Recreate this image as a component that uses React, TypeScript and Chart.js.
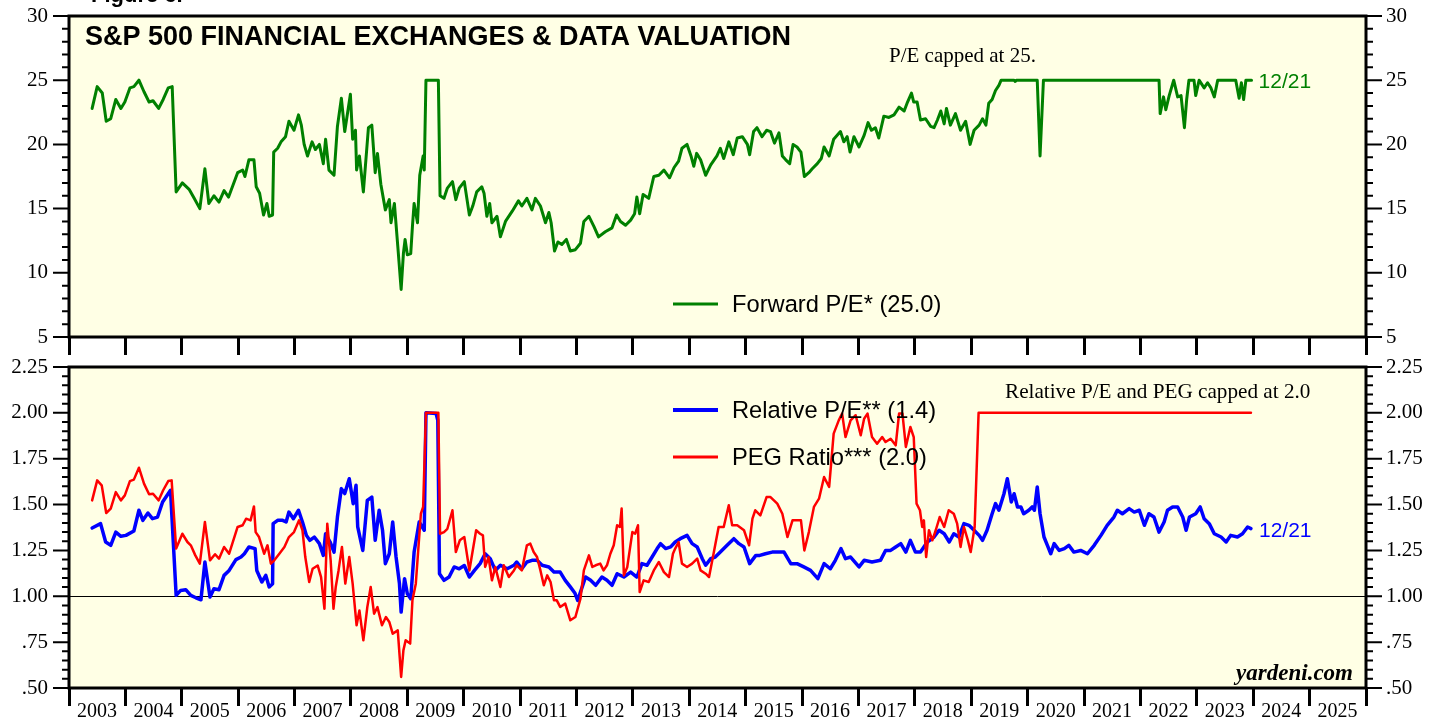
import React, { useEffect, useRef } from "react";
import { Chart, registerables } from "chart.js";

Chart.register(...registerables);

// ---------------- DATA ----------------
const yearLabels = [
  "2003", "2004", "2005", "2006", "2007", "2008", "2009", "2010", "2011", "2012", "2013", "2014",
  "2015", "2016", "2017", "2018", "2019", "2020", "2021", "2022", "2023", "2024", "2025",
];
const FIRST_YEAR = 2003;
const LAST_YEAR = 2026;

// [date (fractional year), value]
const forwardPE: [number, number][] = [
  [2003.41, 22.8], [2003.5, 24.5], [2003.59, 24.0], [2003.66, 21.8], [2003.74, 22.0], [2003.83, 23.5],
  [2003.92, 22.8], [2003.99, 23.3], [2004.08, 24.4], [2004.15, 24.5], [2004.24, 25.0], [2004.33, 24.1],
  [2004.42, 23.3], [2004.49, 23.4], [2004.59, 22.8], [2004.67, 23.5], [2004.76, 24.4], [2004.83, 24.5],
  [2004.9, 16.3], [2005.01, 17.0], [2005.13, 16.5], [2005.22, 15.8], [2005.32, 15.0], [2005.41, 18.1],
  [2005.48, 15.4], [2005.57, 16.0], [2005.66, 15.5], [2005.75, 16.4], [2005.83, 15.9], [2005.99, 17.8],
  [2006.08, 18.0], [2006.12, 17.5], [2006.19, 18.8], [2006.28, 18.8], [2006.32, 16.7], [2006.38, 16.2],
  [2006.45, 14.5], [2006.51, 15.4], [2006.55, 14.4], [2006.61, 14.5], [2006.63, 19.4], [2006.7, 19.7],
  [2006.76, 20.2], [2006.84, 20.6], [2006.9, 21.8], [2006.99, 21.1], [2007.07, 22.3], [2007.12, 21.5],
  [2007.17, 20.0], [2007.23, 19.1], [2007.31, 20.2], [2007.37, 19.6], [2007.44, 20.0], [2007.51, 18.5],
  [2007.55, 20.4], [2007.61, 18.0], [2007.7, 17.6], [2007.76, 21.4], [2007.83, 23.6], [2007.89, 21.0],
  [2007.99, 23.9], [2008.03, 20.4], [2008.08, 21.1], [2008.1, 18.0], [2008.15, 19.1], [2008.22, 16.3],
  [2008.31, 21.3], [2008.37, 21.5], [2008.43, 17.8], [2008.47, 19.3], [2008.53, 16.9], [2008.61, 14.9],
  [2008.68, 15.7], [2008.71, 13.9], [2008.77, 15.4], [2008.83, 12.1], [2008.89, 8.7], [2008.93, 11.5],
  [2008.96, 12.6], [2009.0, 11.4], [2009.06, 11.5], [2009.09, 13.6], [2009.12, 15.4], [2009.18, 13.9],
  [2009.22, 17.6], [2009.28, 19.1], [2009.3, 18.0], [2009.33, 25.0], [2009.55, 25.0], [2009.58, 16.0],
  [2009.65, 15.8], [2009.71, 16.6], [2009.8, 17.1], [2009.86, 15.7], [2009.92, 16.6], [2010.01, 17.1],
  [2010.1, 14.5], [2010.16, 15.2], [2010.23, 16.3], [2010.32, 16.7], [2010.36, 16.2], [2010.41, 14.4],
  [2010.46, 15.4], [2010.5, 13.9], [2010.59, 14.4], [2010.65, 12.8], [2010.74, 14.0], [2010.86, 14.8],
  [2010.97, 15.6], [2011.03, 15.2], [2011.12, 15.8], [2011.21, 14.9], [2011.27, 15.8], [2011.36, 15.2],
  [2011.45, 13.9], [2011.51, 14.7], [2011.55, 13.9], [2011.61, 11.7], [2011.67, 12.4], [2011.74, 12.2],
  [2011.82, 12.6], [2011.89, 11.7], [2011.98, 11.8], [2012.07, 12.3], [2012.13, 14.0], [2012.22, 14.4],
  [2012.31, 13.6], [2012.39, 12.8], [2012.51, 13.2], [2012.63, 13.5], [2012.71, 14.5], [2012.78, 14.0],
  [2012.87, 13.7], [2012.96, 14.1], [2013.03, 14.6], [2013.07, 15.9], [2013.12, 14.6], [2013.18, 16.1],
  [2013.28, 15.8], [2013.37, 17.5], [2013.46, 17.6], [2013.55, 18.0], [2013.65, 17.4], [2013.73, 18.2],
  [2013.81, 18.7], [2013.87, 19.7], [2013.96, 20.0], [2014.03, 19.1], [2014.08, 18.3], [2014.13, 19.3],
  [2014.2, 18.8], [2014.29, 17.6], [2014.38, 18.4], [2014.49, 19.1], [2014.55, 19.7], [2014.61, 18.9],
  [2014.7, 20.2], [2014.78, 19.2], [2014.85, 20.5], [2014.94, 20.6], [2015.03, 20.0], [2015.07, 19.2],
  [2015.14, 21.0], [2015.2, 21.3], [2015.29, 20.6], [2015.37, 21.1], [2015.44, 21.0], [2015.51, 20.1],
  [2015.59, 20.9], [2015.65, 19.1], [2015.71, 18.8], [2015.78, 18.5], [2015.84, 20.0], [2015.91, 19.8],
  [2015.98, 19.4], [2016.04, 17.5], [2016.12, 17.8], [2016.18, 18.1], [2016.27, 18.5], [2016.34, 18.9],
  [2016.39, 19.8], [2016.48, 19.1], [2016.56, 20.4], [2016.68, 21.0], [2016.74, 20.2], [2016.8, 20.6],
  [2016.85, 19.4], [2016.92, 20.6], [2017.01, 19.8], [2017.1, 20.7], [2017.17, 21.7], [2017.23, 21.1],
  [2017.3, 21.3], [2017.36, 20.5], [2017.45, 22.2], [2017.54, 22.1], [2017.63, 22.3], [2017.72, 22.9],
  [2017.81, 22.6], [2017.87, 23.3], [2017.94, 24.0], [2017.98, 23.3], [2018.04, 23.3], [2018.1, 21.9],
  [2018.19, 22.0], [2018.28, 21.4], [2018.34, 21.3], [2018.4, 21.9], [2018.46, 22.6], [2018.52, 21.6],
  [2018.56, 22.8], [2018.63, 21.5], [2018.72, 22.4], [2018.81, 21.1], [2018.9, 21.8], [2018.98, 20.0],
  [2019.05, 21.1], [2019.14, 21.5], [2019.2, 22.0], [2019.26, 21.5], [2019.31, 23.2], [2019.37, 23.5],
  [2019.43, 24.2], [2019.49, 24.6], [2019.53, 25.0], [2019.76, 25.0], [2019.78, 24.9], [2019.8, 25.0],
  [2020.17, 25.0], [2020.22, 19.1], [2020.28, 25.0], [2022.33, 25.0], [2022.35, 22.4], [2022.41, 23.7],
  [2022.45, 22.7], [2022.51, 23.8], [2022.59, 25.0], [2022.66, 23.7], [2022.72, 23.8], [2022.78, 21.3],
  [2022.82, 23.5], [2022.86, 25.0], [2022.95, 25.0], [2022.98, 23.8], [2023.04, 25.0], [2023.13, 24.4],
  [2023.19, 24.8], [2023.25, 24.4], [2023.31, 23.7], [2023.37, 25.0], [2023.69, 25.0], [2023.75, 23.6],
  [2023.79, 24.8], [2023.83, 23.5], [2023.87, 25.0], [2023.97, 25.0],
];

const relativePE: [number, number][] = [
  [2003.41, 1.372], [2003.56, 1.396], [2003.65, 1.296], [2003.74, 1.278], [2003.83, 1.35], [2003.92, 1.327],
  [2004.01, 1.332], [2004.15, 1.356], [2004.24, 1.469], [2004.31, 1.414], [2004.4, 1.454], [2004.48, 1.423],
  [2004.57, 1.432], [2004.66, 1.514], [2004.8, 1.578], [2004.9, 1.005], [2004.98, 1.032], [2005.07, 1.036],
  [2005.16, 1.005], [2005.25, 0.992], [2005.34, 0.981], [2005.41, 1.187], [2005.5, 0.996], [2005.57, 1.041],
  [2005.66, 1.036], [2005.75, 1.114], [2005.84, 1.141], [2005.96, 1.2], [2006.05, 1.214], [2006.11, 1.232],
  [2006.19, 1.269], [2006.3, 1.26], [2006.33, 1.141], [2006.42, 1.078], [2006.49, 1.114], [2006.55, 1.051],
  [2006.61, 1.069], [2006.62, 1.396], [2006.7, 1.414], [2006.79, 1.414], [2006.85, 1.405], [2006.9, 1.459],
  [2006.98, 1.423], [2007.07, 1.469], [2007.14, 1.405], [2007.21, 1.332], [2007.27, 1.305], [2007.35, 1.323],
  [2007.44, 1.287], [2007.51, 1.223], [2007.55, 1.341], [2007.63, 1.296], [2007.7, 1.241], [2007.76, 1.432],
  [2007.83, 1.587], [2007.89, 1.56], [2007.97, 1.641], [2008.04, 1.505], [2008.09, 1.605], [2008.12, 1.378],
  [2008.21, 1.25], [2008.29, 1.523], [2008.37, 1.541], [2008.43, 1.305], [2008.5, 1.469], [2008.56, 1.36],
  [2008.61, 1.178], [2008.68, 1.232], [2008.74, 1.405], [2008.8, 1.214], [2008.86, 1.069], [2008.89, 0.914],
  [2008.95, 1.096], [2009.0, 1.014], [2009.06, 0.987], [2009.12, 1.241], [2009.21, 1.405], [2009.3, 1.36],
  [2009.33, 2.0], [2009.51, 1.996], [2009.54, 1.96], [2009.57, 1.123], [2009.65, 1.087], [2009.74, 1.105],
  [2009.83, 1.16], [2009.92, 1.15], [2010.01, 1.168], [2010.1, 1.105], [2010.19, 1.141], [2010.29, 1.178],
  [2010.38, 1.232], [2010.47, 1.205], [2010.56, 1.141], [2010.65, 1.169], [2010.77, 1.15], [2010.89, 1.169],
  [2010.94, 1.187], [2011.03, 1.15], [2011.12, 1.187], [2011.21, 1.196], [2011.3, 1.196], [2011.39, 1.169],
  [2011.51, 1.16], [2011.6, 1.132], [2011.71, 1.132], [2011.8, 1.087], [2011.89, 1.051], [2011.97, 1.018],
  [2012.02, 0.978], [2012.07, 1.023], [2012.16, 1.105], [2012.25, 1.087], [2012.34, 1.06], [2012.45, 1.105],
  [2012.54, 1.087], [2012.63, 1.06], [2012.72, 1.123], [2012.84, 1.105], [2012.96, 1.132], [2013.07, 1.105],
  [2013.16, 1.178], [2013.25, 1.169], [2013.34, 1.214], [2013.43, 1.26], [2013.49, 1.287], [2013.58, 1.26],
  [2013.67, 1.269], [2013.75, 1.296], [2013.84, 1.314], [2013.96, 1.332], [2014.05, 1.287], [2014.14, 1.269],
  [2014.23, 1.205], [2014.29, 1.169], [2014.38, 1.205], [2014.46, 1.214], [2014.55, 1.241], [2014.67, 1.278],
  [2014.79, 1.314], [2014.88, 1.287], [2014.97, 1.269], [2015.07, 1.178], [2015.18, 1.223], [2015.25, 1.223],
  [2015.35, 1.232], [2015.47, 1.241], [2015.59, 1.241], [2015.68, 1.241], [2015.8, 1.178], [2015.91, 1.178],
  [2016.03, 1.16], [2016.15, 1.141], [2016.28, 1.096], [2016.39, 1.178], [2016.5, 1.15], [2016.59, 1.196],
  [2016.69, 1.26], [2016.77, 1.205], [2016.86, 1.214], [2017.01, 1.16], [2017.1, 1.196], [2017.24, 1.187],
  [2017.39, 1.196], [2017.48, 1.25], [2017.57, 1.25], [2017.66, 1.269], [2017.75, 1.287], [2017.84, 1.241],
  [2017.92, 1.305], [2018.01, 1.241], [2018.1, 1.241], [2018.22, 1.296], [2018.34, 1.323], [2018.43, 1.36],
  [2018.52, 1.341], [2018.61, 1.296], [2018.69, 1.341], [2018.78, 1.323], [2018.87, 1.396], [2018.96, 1.387],
  [2019.05, 1.36], [2019.14, 1.332], [2019.2, 1.305], [2019.28, 1.36], [2019.37, 1.45], [2019.43, 1.505],
  [2019.49, 1.469], [2019.58, 1.559], [2019.64, 1.641], [2019.71, 1.514], [2019.76, 1.559], [2019.82, 1.487],
  [2019.88, 1.487], [2019.93, 1.45], [2020.02, 1.469], [2020.08, 1.487], [2020.12, 1.469], [2020.17, 1.596],
  [2020.22, 1.45], [2020.29, 1.323], [2020.35, 1.278], [2020.41, 1.232], [2020.47, 1.287], [2020.56, 1.25],
  [2020.65, 1.26], [2020.73, 1.278], [2020.82, 1.241], [2020.94, 1.25], [2021.06, 1.232], [2021.18, 1.278],
  [2021.3, 1.332], [2021.41, 1.387], [2021.53, 1.432], [2021.59, 1.469], [2021.68, 1.45], [2021.8, 1.478],
  [2021.89, 1.459], [2021.98, 1.469], [2022.07, 1.387], [2022.15, 1.45], [2022.24, 1.432], [2022.33, 1.35],
  [2022.42, 1.405], [2022.48, 1.469], [2022.57, 1.487], [2022.66, 1.487], [2022.75, 1.432], [2022.81, 1.36],
  [2022.87, 1.432], [2022.98, 1.45], [2023.06, 1.487], [2023.13, 1.423], [2023.22, 1.396], [2023.31, 1.341],
  [2023.43, 1.323], [2023.52, 1.296], [2023.6, 1.332], [2023.72, 1.323], [2023.81, 1.341], [2023.9, 1.378],
  [2023.96, 1.369],
];

const pegRatio: [number, number][] = [
  [2003.41, 1.523], [2003.5, 1.632], [2003.58, 1.605], [2003.66, 1.454], [2003.74, 1.478], [2003.83, 1.568],
  [2003.92, 1.523], [2003.99, 1.55], [2004.08, 1.628], [2004.15, 1.636], [2004.24, 1.701], [2004.33, 1.614],
  [2004.42, 1.556], [2004.49, 1.559], [2004.59, 1.523], [2004.67, 1.578], [2004.76, 1.628], [2004.82, 1.632],
  [2004.9, 1.26], [2005.01, 1.341], [2005.1, 1.296], [2005.16, 1.278], [2005.24, 1.223], [2005.32, 1.178],
  [2005.41, 1.405], [2005.5, 1.196], [2005.59, 1.229], [2005.66, 1.205], [2005.75, 1.269], [2005.84, 1.232],
  [2005.99, 1.378], [2006.08, 1.387], [2006.14, 1.423], [2006.22, 1.414], [2006.28, 1.49], [2006.31, 1.35],
  [2006.37, 1.323], [2006.46, 1.232], [2006.52, 1.278], [2006.58, 1.178], [2006.64, 1.196], [2006.73, 1.232],
  [2006.82, 1.269], [2006.9, 1.323], [2006.99, 1.35], [2007.08, 1.414], [2007.14, 1.36], [2007.19, 1.214],
  [2007.26, 1.078], [2007.32, 1.15], [2007.41, 1.168], [2007.47, 1.105], [2007.53, 0.932], [2007.58, 1.396],
  [2007.64, 1.196], [2007.69, 0.932], [2007.73, 1.051], [2007.78, 1.141], [2007.84, 1.269], [2007.9, 1.069],
  [2007.97, 1.214], [2008.03, 1.069], [2008.1, 0.842], [2008.15, 0.923], [2008.22, 0.76], [2008.29, 0.941],
  [2008.35, 1.051], [2008.41, 0.905], [2008.47, 0.941], [2008.55, 0.842], [2008.62, 0.887], [2008.68, 0.86],
  [2008.74, 0.796], [2008.83, 0.814], [2008.89, 0.56], [2008.93, 0.705], [2008.97, 0.76], [2009.05, 0.742],
  [2009.09, 0.978], [2009.15, 1.069], [2009.24, 1.45], [2009.28, 1.487], [2009.33, 2.0], [2009.55, 2.0],
  [2009.58, 1.341], [2009.65, 1.35], [2009.71, 1.368], [2009.8, 1.469], [2009.86, 1.241], [2009.93, 1.305],
  [2010.01, 1.323], [2010.1, 1.141], [2010.22, 1.36], [2010.29, 1.341], [2010.34, 1.332], [2010.38, 1.16],
  [2010.44, 1.214], [2010.5, 1.087], [2010.56, 1.16], [2010.65, 1.051], [2010.71, 1.169], [2010.8, 1.105],
  [2010.89, 1.141], [2010.94, 1.169], [2011.03, 1.141], [2011.12, 1.278], [2011.18, 1.287], [2011.24, 1.241],
  [2011.3, 1.214], [2011.36, 1.141], [2011.42, 1.06], [2011.48, 1.114], [2011.54, 1.078], [2011.6, 0.978],
  [2011.65, 0.978], [2011.71, 0.942], [2011.8, 0.96], [2011.89, 0.869], [2011.98, 0.887], [2012.07, 0.987],
  [2012.13, 1.141], [2012.22, 1.223], [2012.28, 1.16], [2012.34, 1.169], [2012.42, 1.178], [2012.48, 1.141],
  [2012.54, 1.169], [2012.6, 1.232], [2012.66, 1.278], [2012.72, 1.387], [2012.77, 1.378], [2012.8, 1.478],
  [2012.84, 1.114], [2012.9, 1.16], [2012.99, 1.35], [2013.04, 1.341], [2013.09, 1.387], [2013.12, 1.023],
  [2013.19, 1.087], [2013.28, 1.078], [2013.37, 1.141], [2013.46, 1.187], [2013.55, 1.132], [2013.64, 1.105],
  [2013.71, 1.232], [2013.75, 1.26], [2013.81, 1.296], [2013.87, 1.178], [2013.96, 1.16], [2014.05, 1.178],
  [2014.14, 1.205], [2014.2, 1.141], [2014.29, 1.123], [2014.35, 1.105], [2014.43, 1.232], [2014.52, 1.378],
  [2014.61, 1.378], [2014.7, 1.496], [2014.76, 1.387], [2014.85, 1.387], [2014.97, 1.36], [2015.06, 1.278],
  [2015.12, 1.423], [2015.17, 1.469], [2015.26, 1.441], [2015.37, 1.541], [2015.44, 1.541], [2015.56, 1.505],
  [2015.65, 1.45], [2015.74, 1.323], [2015.83, 1.414], [2015.91, 1.414], [2015.98, 1.414], [2016.04, 1.25],
  [2016.12, 1.35], [2016.21, 1.487], [2016.3, 1.532], [2016.39, 1.65], [2016.48, 1.596], [2016.56, 1.887],
  [2016.65, 1.959], [2016.71, 1.996], [2016.77, 1.868], [2016.86, 1.959], [2016.95, 1.987], [2017.04, 1.878],
  [2017.1, 1.968], [2017.16, 1.996], [2017.24, 1.868], [2017.33, 1.832], [2017.42, 1.868], [2017.48, 1.841],
  [2017.57, 1.859], [2017.66, 1.823], [2017.72, 1.996], [2017.78, 1.996], [2017.84, 1.814], [2017.92, 1.923],
  [2017.98, 1.868], [2018.03, 1.505], [2018.09, 1.469], [2018.13, 1.378], [2018.16, 1.414], [2018.2, 1.214],
  [2018.25, 1.36], [2018.31, 1.305], [2018.37, 1.36], [2018.44, 1.432], [2018.52, 1.378], [2018.6, 1.469],
  [2018.69, 1.45], [2018.75, 1.396], [2018.81, 1.269], [2018.87, 1.378], [2018.94, 1.305], [2018.99, 1.241],
  [2019.06, 1.378], [2019.13, 2.0], [2023.96, 2.0],
];

const LAST_LABEL = "12/21";
const TITLE = "S&P 500 FINANCIAL EXCHANGES & DATA VALUATION";

// ---------------- STYLE ----------------
const SANS = '"Liberation Sans", Arial, sans-serif';
const SERIF = '"Liberation Serif", "Times New Roman", serif';
const BG = "#FFFFE5";
const GREEN = "#008000";
const BLUE = "#0000FF";
const RED = "#FF0000";

const toPoints = (s: [number, number][]) => s.map(([x, y]) => ({ x, y }));

function yScale(position: "left" | "right", min: number, max: number, step: number, width: number, fmt: (v: number) => string) {
  return {
    type: "linear" as const,
    position,
    min,
    max,
    ticks: {
      stepSize: step,
      color: "#000",
      font: { family: SERIF, size: 21 },
      padding: position === "left" ? 21 : 20,
      callback: (v: any) => fmt(Number(v)),
    },
    grid: { display: false, drawTicks: false },
    border: { display: false },
    afterFit: (s: any) => {
      s.width = width;
      s.paddingTop = 0;
      s.paddingBottom = 0;
    },
  };
}

function xScale(showLabels: boolean, height: number) {
  return {
    type: "linear" as const,
    position: "bottom" as const,
    min: FIRST_YEAR,
    max: LAST_YEAR,
    ticks: {
      display: showLabels,
      stepSize: 1,
      autoSkip: false,
      maxRotation: 0,
      minRotation: 0,
      labelOffset: 28,
      padding: -6,
      color: "#000",
      font: { family: SERIF, size: 20 },
      callback: (v: any) => yearLabels[Math.round(Number(v)) - FIRST_YEAR] ?? "",
    },
    grid: {
      display: true,
      drawOnChartArea: false,
      drawTicks: true,
      tickLength: 18,
      color: "#000",
      tickColor: "#000",
      lineWidth: 3,
      tickWidth: 3,
    },
    border: { display: false },
    afterFit: (s: any) => {
      s.height = height;
      s.paddingLeft = 0;
      s.paddingRight = 0;
    },
  };
}

function drawFrameAndTicks(chart: any, min: number, max: number, minor: number, major: number) {
  const { ctx, chartArea: a } = chart;
  const s = chart.scales.y;
  ctx.save();
  ctx.strokeStyle = "#000";
  ctx.lineWidth = 2;
  ctx.beginPath();
  const n = Math.round((max - min) / minor);
  for (let i = 0; i <= n; i++) {
    const v = min + i * minor;
    const r = v / major;
    const isMajor = Math.abs(r - Math.round(r)) < 1e-6;
    const len = isMajor ? 16 : 7;
    const y = s.getPixelForValue(v);
    ctx.moveTo(a.left - len, y);
    ctx.lineTo(a.left, y);
    ctx.moveTo(a.right, y);
    ctx.lineTo(a.right + len, y);
  }
  ctx.stroke();
  ctx.lineWidth = 3;
  ctx.strokeRect(a.left, a.top, a.right - a.left, a.bottom - a.top);
  ctx.restore();
}

function text(ctx: CanvasRenderingContext2D, str: string, x: number, y: number, font: string, color = "#000", align: CanvasTextAlign = "left") {
  ctx.font = font;
  ctx.fillStyle = color;
  ctx.textAlign = align;
  ctx.textBaseline = "alphabetic";
  ctx.fillText(str, x, y);
}

function legendLine(ctx: CanvasRenderingContext2D, x1: number, x2: number, y: number, color: string, w: number) {
  ctx.strokeStyle = color;
  ctx.lineWidth = w;
  ctx.beginPath();
  ctx.moveTo(x1, y);
  ctx.lineTo(x2, y);
  ctx.stroke();
}

const bgPlugin = {
  id: "plotBg",
  beforeDraw(chart: any) {
    const { ctx, chartArea: a } = chart;
    ctx.save();
    ctx.fillStyle = BG;
    ctx.fillRect(a.left, a.top, a.right - a.left, a.bottom - a.top);
    ctx.restore();
  },
};

const topDecor = {
  id: "topDecor",
  afterDraw(chart: any) {
    const { ctx } = chart;
    drawFrameAndTicks(chart, 5, 30, 1, 5);
    ctx.save();
    text(ctx, "Figure 6.", 91, 2, `bold 22px ${SANS}`);
    text(ctx, TITLE, 85, 45, `bold 27px ${SANS}`);
    text(ctx, "P/E capped at 25.", 889, 62, `21px ${SERIF}`);
    const last = forwardPE[forwardPE.length - 1];
    const lx = chart.scales.x.getPixelForValue(last[0]);
    const ly = chart.scales.y.getPixelForValue(last[1]);
    text(ctx, LAST_LABEL, lx + 7, ly + 8, `21px ${SANS}`, GREEN);
    legendLine(ctx, 673, 718, 304, GREEN, 3);
    text(ctx, "Forward P/E* (25.0)", 732, 312, `23.7px ${SANS}`);
    ctx.restore();
  },
};

const bottomDecor = {
  id: "bottomDecor",
  beforeDatasetsDraw(chart: any) {
    const { ctx, chartArea: a } = chart;
    const y = chart.scales.y.getPixelForValue(1);
    ctx.save();
    ctx.strokeStyle = "#000";
    ctx.lineWidth = 1;
    ctx.beginPath();
    ctx.moveTo(a.left, Math.round(y) + 0.5);
    ctx.lineTo(a.right, Math.round(y) + 0.5);
    ctx.stroke();
    ctx.restore();
  },
  afterDraw(chart: any) {
    const { ctx } = chart;
    drawFrameAndTicks(chart, 0.5, 2.25, 0.05, 0.25);
    ctx.save();
    text(ctx, "Relative P/E and PEG capped at 2.0", 1005, 398, `21.2px ${SERIF}`);
    const last = relativePE[relativePE.length - 1];
    const lx = chart.scales.x.getPixelForValue(last[0]);
    const ly = chart.scales.y.getPixelForValue(last[1]);
    text(ctx, LAST_LABEL, lx + 8, ly + 8, `21px ${SANS}`, BLUE);
    legendLine(ctx, 673, 718, 410, BLUE, 4);
    text(ctx, "Relative P/E** (1.4)", 732, 418, `23.7px ${SANS}`);
    legendLine(ctx, 673, 718, 457, RED, 3);
    text(ctx, "PEG Ratio*** (2.0)", 732, 465, `23.7px ${SANS}`);
    text(ctx, "yardeni.com", 1353, 680, `italic bold 23px ${SERIF}`, "#000", "right");
    ctx.restore();
  },
};

const fmtTop = (v: number) => String(Math.round(v));
const fmtBottom = (v: number) => (v < 1 ? v.toFixed(2).slice(1) : v.toFixed(2));

export default function App() {
  const topRef = useRef<HTMLCanvasElement>(null);
  const botRef = useRef<HTMLCanvasElement>(null);

  useEffect(() => {
    const common = {
      responsive: false,
      animation: false as const,
      devicePixelRatio: 1,
      plugins: { legend: { display: false }, tooltip: { enabled: false }, title: { display: false } },
      elements: { point: { radius: 0 }, line: { tension: 0, borderJoinStyle: "round" as const, borderCapStyle: "round" as const } },
    };

    const top = new Chart(topRef.current!, {
      type: "line",
      data: {
        datasets: [
          {
            label: "Forward P/E",
            data: toPoints(forwardPE),
            borderColor: GREEN,
            borderWidth: 3,
            fill: false,
          },
        ],
      },
      options: {
        ...common,
        layout: { autoPadding: false, padding: { top: 16, left: 0, right: 0, bottom: 357 } },
        scales: {
          x: xScale(false, 23) as any,
          y: yScale("left", 5, 30, 5, 69, fmtTop) as any,
          y2: yScale("right", 5, 30, 5, 74, fmtTop) as any,
        },
      },
      plugins: [bgPlugin, topDecor],
    });

    const bottom = new Chart(botRef.current!, {
      type: "line",
      data: {
        datasets: [
          {
            label: "PEG Ratio",
            data: toPoints(pegRatio),
            borderColor: RED,
            borderWidth: 2.5,
            fill: false,
          },
          {
            label: "Relative P/E",
            data: toPoints(relativePE),
            borderColor: BLUE,
            borderWidth: 3.5,
            fill: false,
          },
        ],
      },
      options: {
        ...common,
        layout: { autoPadding: false, padding: { top: 367, left: 0, right: 0, bottom: 0 } },
        scales: {
          x: xScale(true, 29) as any,
          y: yScale("left", 0.5, 2.25, 0.25, 69, fmtBottom) as any,
          y2: yScale("right", 0.5, 2.25, 0.25, 74, fmtBottom) as any,
        },
      },
      plugins: [bgPlugin, bottomDecor],
    });

    return () => {
      top.destroy();
      bottom.destroy();
    };
  }, []);

  const canvasStyle: React.CSSProperties = { position: "absolute", left: 0, top: 0, width: 1440, height: 717 };
  return (
    <div style={{ position: "absolute", left: 0, top: 0, width: 1440, height: 717, background: "#fff", overflow: "hidden" }}>
      <canvas ref={topRef} width={1440} height={717} style={canvasStyle} />
      <canvas ref={botRef} width={1440} height={717} style={canvasStyle} />
    </div>
  );
}
